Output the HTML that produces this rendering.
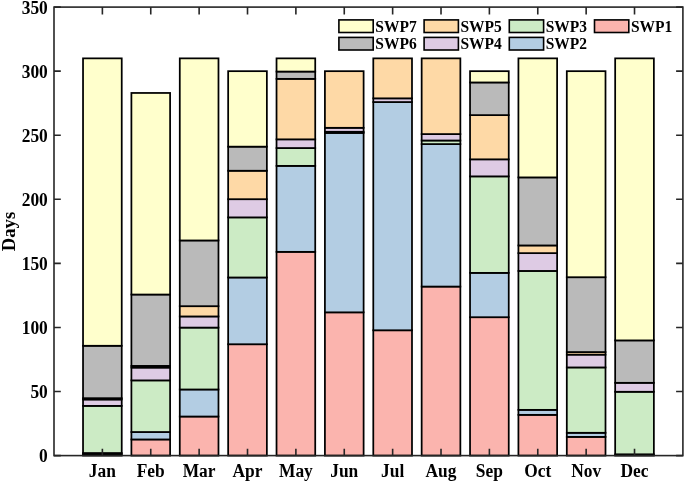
<!DOCTYPE html>
<html><head><meta charset="utf-8"><style>
html,body{margin:0;padding:0;background:#fff;}
body{width:685px;height:483px;overflow:hidden;}
svg{display:block;}
text{filter:grayscale(1);}
.t{font-family:"Liberation Serif",serif;font-weight:bold;font-size:17.4px;fill:#000;}
.l{font-family:"Liberation Serif",serif;font-weight:bold;font-size:15.5px;fill:#000;}
.d{font-family:"Liberation Serif",serif;font-weight:bold;font-size:18.0px;fill:#000;}
</style></head><body>
<svg width="685" height="483" viewBox="0 0 685 483">
<rect x="83.03" y="454.32" width="38.70" height="1.28" fill="#fbb4ae" stroke="#000" stroke-width="1.75"/>
<rect x="83.03" y="453.04" width="38.70" height="1.28" fill="#b3cde3" stroke="#000" stroke-width="1.75"/>
<rect x="83.03" y="405.88" width="38.70" height="47.16" fill="#ccebc5" stroke="#000" stroke-width="1.75"/>
<rect x="83.03" y="399.47" width="38.70" height="6.41" fill="#decbe4" stroke="#000" stroke-width="1.75"/>
<rect x="83.03" y="398.19" width="38.70" height="1.28" fill="#fed9a6" stroke="#000" stroke-width="1.75"/>
<rect x="83.03" y="345.78" width="38.70" height="52.41" fill="#bababa" stroke="#000" stroke-width="1.75"/>
<rect x="83.03" y="58.36" width="38.70" height="287.42" fill="#ffffcc" stroke="#000" stroke-width="1.75"/>
<rect x="131.40" y="439.45" width="38.70" height="16.15" fill="#fbb4ae" stroke="#000" stroke-width="1.75"/>
<rect x="131.40" y="432.02" width="38.70" height="7.43" fill="#b3cde3" stroke="#000" stroke-width="1.75"/>
<rect x="131.40" y="380.38" width="38.70" height="51.64" fill="#ccebc5" stroke="#000" stroke-width="1.75"/>
<rect x="131.40" y="367.57" width="38.70" height="12.81" fill="#decbe4" stroke="#000" stroke-width="1.75"/>
<rect x="131.40" y="365.90" width="38.70" height="1.67" fill="#fed9a6" stroke="#000" stroke-width="1.75"/>
<rect x="131.40" y="294.52" width="38.70" height="71.38" fill="#bababa" stroke="#000" stroke-width="1.75"/>
<rect x="131.40" y="92.96" width="38.70" height="201.57" fill="#ffffcc" stroke="#000" stroke-width="1.75"/>
<rect x="179.78" y="416.52" width="38.70" height="39.08" fill="#fbb4ae" stroke="#000" stroke-width="1.75"/>
<rect x="179.78" y="389.48" width="38.70" height="27.04" fill="#b3cde3" stroke="#000" stroke-width="1.75"/>
<rect x="179.78" y="327.59" width="38.70" height="61.89" fill="#ccebc5" stroke="#000" stroke-width="1.75"/>
<rect x="179.78" y="316.44" width="38.70" height="11.15" fill="#decbe4" stroke="#000" stroke-width="1.75"/>
<rect x="179.78" y="306.19" width="38.70" height="10.25" fill="#fed9a6" stroke="#000" stroke-width="1.75"/>
<rect x="179.78" y="240.45" width="38.70" height="65.74" fill="#bababa" stroke="#000" stroke-width="1.75"/>
<rect x="179.78" y="58.36" width="38.70" height="182.09" fill="#ffffcc" stroke="#000" stroke-width="1.75"/>
<rect x="228.16" y="344.24" width="38.70" height="111.36" fill="#fbb4ae" stroke="#000" stroke-width="1.75"/>
<rect x="228.16" y="277.48" width="38.70" height="66.76" fill="#b3cde3" stroke="#000" stroke-width="1.75"/>
<rect x="228.16" y="217.38" width="38.70" height="60.10" fill="#ccebc5" stroke="#000" stroke-width="1.75"/>
<rect x="228.16" y="199.19" width="38.70" height="18.20" fill="#decbe4" stroke="#000" stroke-width="1.75"/>
<rect x="228.16" y="170.74" width="38.70" height="28.45" fill="#fed9a6" stroke="#000" stroke-width="1.75"/>
<rect x="228.16" y="146.65" width="38.70" height="24.09" fill="#bababa" stroke="#000" stroke-width="1.75"/>
<rect x="228.16" y="71.17" width="38.70" height="75.48" fill="#ffffcc" stroke="#000" stroke-width="1.75"/>
<rect x="276.53" y="251.85" width="38.70" height="203.75" fill="#fbb4ae" stroke="#000" stroke-width="1.75"/>
<rect x="276.53" y="165.87" width="38.70" height="85.98" fill="#b3cde3" stroke="#000" stroke-width="1.75"/>
<rect x="276.53" y="148.06" width="38.70" height="17.81" fill="#ccebc5" stroke="#000" stroke-width="1.75"/>
<rect x="276.53" y="139.34" width="38.70" height="8.71" fill="#decbe4" stroke="#000" stroke-width="1.75"/>
<rect x="276.53" y="78.86" width="38.70" height="60.48" fill="#fed9a6" stroke="#000" stroke-width="1.75"/>
<rect x="276.53" y="71.56" width="38.70" height="7.30" fill="#bababa" stroke="#000" stroke-width="1.75"/>
<rect x="276.53" y="58.36" width="38.70" height="13.20" fill="#ffffcc" stroke="#000" stroke-width="1.75"/>
<rect x="324.91" y="312.34" width="38.70" height="143.26" fill="#fbb4ae" stroke="#000" stroke-width="1.75"/>
<rect x="324.91" y="132.94" width="38.70" height="179.40" fill="#b3cde3" stroke="#000" stroke-width="1.75"/>
<rect x="324.91" y="131.78" width="38.70" height="1.15" fill="#ccebc5" stroke="#000" stroke-width="1.75"/>
<rect x="324.91" y="127.81" width="38.70" height="3.97" fill="#decbe4" stroke="#000" stroke-width="1.75"/>
<rect x="324.91" y="71.17" width="38.70" height="56.64" fill="#fed9a6" stroke="#000" stroke-width="1.75"/>
<rect x="324.91" y="71.17" width="38.70" height="0.00" fill="#bababa" stroke="#000" stroke-width="1.75"/>
<rect x="324.91" y="71.17" width="38.70" height="0.00" fill="#ffffcc" stroke="#000" stroke-width="1.75"/>
<rect x="373.29" y="330.28" width="38.70" height="125.32" fill="#fbb4ae" stroke="#000" stroke-width="1.75"/>
<rect x="373.29" y="102.05" width="38.70" height="228.22" fill="#b3cde3" stroke="#000" stroke-width="1.75"/>
<rect x="373.29" y="102.05" width="38.70" height="0.00" fill="#ccebc5" stroke="#000" stroke-width="1.75"/>
<rect x="373.29" y="98.34" width="38.70" height="3.72" fill="#decbe4" stroke="#000" stroke-width="1.75"/>
<rect x="373.29" y="58.36" width="38.70" height="39.98" fill="#fed9a6" stroke="#000" stroke-width="1.75"/>
<rect x="373.29" y="58.36" width="38.70" height="0.00" fill="#bababa" stroke="#000" stroke-width="1.75"/>
<rect x="373.29" y="58.36" width="38.70" height="0.00" fill="#ffffcc" stroke="#000" stroke-width="1.75"/>
<rect x="421.66" y="286.58" width="38.70" height="169.02" fill="#fbb4ae" stroke="#000" stroke-width="1.75"/>
<rect x="421.66" y="144.08" width="38.70" height="142.49" fill="#b3cde3" stroke="#000" stroke-width="1.75"/>
<rect x="421.66" y="140.50" width="38.70" height="3.59" fill="#ccebc5" stroke="#000" stroke-width="1.75"/>
<rect x="421.66" y="134.09" width="38.70" height="6.41" fill="#decbe4" stroke="#000" stroke-width="1.75"/>
<rect x="421.66" y="58.36" width="38.70" height="75.73" fill="#fed9a6" stroke="#000" stroke-width="1.75"/>
<rect x="421.66" y="58.36" width="38.70" height="0.00" fill="#bababa" stroke="#000" stroke-width="1.75"/>
<rect x="421.66" y="58.36" width="38.70" height="0.00" fill="#ffffcc" stroke="#000" stroke-width="1.75"/>
<rect x="470.04" y="317.21" width="38.70" height="138.39" fill="#fbb4ae" stroke="#000" stroke-width="1.75"/>
<rect x="470.04" y="272.87" width="38.70" height="44.34" fill="#b3cde3" stroke="#000" stroke-width="1.75"/>
<rect x="470.04" y="176.38" width="38.70" height="96.49" fill="#ccebc5" stroke="#000" stroke-width="1.75"/>
<rect x="470.04" y="159.33" width="38.70" height="17.04" fill="#decbe4" stroke="#000" stroke-width="1.75"/>
<rect x="470.04" y="115.12" width="38.70" height="44.21" fill="#fed9a6" stroke="#000" stroke-width="1.75"/>
<rect x="470.04" y="82.45" width="38.70" height="32.68" fill="#bababa" stroke="#000" stroke-width="1.75"/>
<rect x="470.04" y="71.17" width="38.70" height="11.28" fill="#ffffcc" stroke="#000" stroke-width="1.75"/>
<rect x="518.42" y="414.85" width="38.70" height="40.75" fill="#fbb4ae" stroke="#000" stroke-width="1.75"/>
<rect x="518.42" y="409.85" width="38.70" height="5.00" fill="#b3cde3" stroke="#000" stroke-width="1.75"/>
<rect x="518.42" y="270.95" width="38.70" height="138.91" fill="#ccebc5" stroke="#000" stroke-width="1.75"/>
<rect x="518.42" y="253.13" width="38.70" height="17.81" fill="#decbe4" stroke="#000" stroke-width="1.75"/>
<rect x="518.42" y="245.45" width="38.70" height="7.69" fill="#fed9a6" stroke="#000" stroke-width="1.75"/>
<rect x="518.42" y="177.40" width="38.70" height="68.04" fill="#bababa" stroke="#000" stroke-width="1.75"/>
<rect x="518.42" y="58.36" width="38.70" height="119.04" fill="#ffffcc" stroke="#000" stroke-width="1.75"/>
<rect x="566.80" y="436.89" width="38.70" height="18.71" fill="#fbb4ae" stroke="#000" stroke-width="1.75"/>
<rect x="566.80" y="432.79" width="38.70" height="4.10" fill="#b3cde3" stroke="#000" stroke-width="1.75"/>
<rect x="566.80" y="367.44" width="38.70" height="65.35" fill="#ccebc5" stroke="#000" stroke-width="1.75"/>
<rect x="566.80" y="354.62" width="38.70" height="12.81" fill="#decbe4" stroke="#000" stroke-width="1.75"/>
<rect x="566.80" y="352.06" width="38.70" height="2.56" fill="#fed9a6" stroke="#000" stroke-width="1.75"/>
<rect x="566.80" y="277.23" width="38.70" height="74.84" fill="#bababa" stroke="#000" stroke-width="1.75"/>
<rect x="566.80" y="71.17" width="38.70" height="206.05" fill="#ffffcc" stroke="#000" stroke-width="1.75"/>
<rect x="615.17" y="455.60" width="38.70" height="0.00" fill="#fbb4ae" stroke="#000" stroke-width="1.75"/>
<rect x="615.17" y="454.32" width="38.70" height="1.28" fill="#b3cde3" stroke="#000" stroke-width="1.75"/>
<rect x="615.17" y="391.78" width="38.70" height="62.53" fill="#ccebc5" stroke="#000" stroke-width="1.75"/>
<rect x="615.17" y="382.81" width="38.70" height="8.97" fill="#decbe4" stroke="#000" stroke-width="1.75"/>
<rect x="615.17" y="382.81" width="38.70" height="0.00" fill="#fed9a6" stroke="#000" stroke-width="1.75"/>
<rect x="615.17" y="340.40" width="38.70" height="42.42" fill="#bababa" stroke="#000" stroke-width="1.75"/>
<rect x="615.17" y="58.36" width="38.70" height="282.04" fill="#ffffcc" stroke="#000" stroke-width="1.75"/>
<rect x="54.0" y="7.1" width="628.90" height="448.50" fill="none" stroke="#262626" stroke-width="1.6"/>
<path d="M102.38 455.6v-6.8M102.38 7.1v7.4M150.75 455.6v-6.8M150.75 7.1v7.4M199.13 455.6v-6.8M199.13 7.1v7.4M247.51 455.6v-6.8M247.51 7.1v7.4M295.88 455.6v-6.8M295.88 7.1v7.4M344.26 455.6v-6.8M344.26 7.1v7.4M392.64 455.6v-6.8M392.64 7.1v7.4M441.02 455.6v-6.8M441.02 7.1v7.4M489.39 455.6v-6.8M489.39 7.1v7.4M537.77 455.6v-6.8M537.77 7.1v7.4M586.15 455.6v-6.8M586.15 7.1v7.4M634.52 455.6v-6.8M634.52 7.1v7.4M54.0 455.60h6.8M682.9 455.60h-6.8M54.0 391.53h6.8M682.9 391.53h-6.8M54.0 327.46h6.8M682.9 327.46h-6.8M54.0 263.39h6.8M682.9 263.39h-6.8M54.0 199.31h6.8M682.9 199.31h-6.8M54.0 135.24h6.8M682.9 135.24h-6.8M54.0 71.17h6.8M682.9 71.17h-6.8M54.0 7.10h6.8M682.9 7.10h-6.8" stroke="#262626" stroke-width="1.6" fill="none"/>
<text transform="translate(47.8 462.40) scale(1 1.06)" text-anchor="end" class="t">0</text>
<text transform="translate(47.8 398.33) scale(1 1.06)" text-anchor="end" class="t">50</text>
<text transform="translate(47.8 334.26) scale(1 1.06)" text-anchor="end" class="t">100</text>
<text transform="translate(47.8 270.19) scale(1 1.06)" text-anchor="end" class="t">150</text>
<text transform="translate(47.8 206.11) scale(1 1.06)" text-anchor="end" class="t">200</text>
<text transform="translate(47.8 142.04) scale(1 1.06)" text-anchor="end" class="t">250</text>
<text transform="translate(47.8 77.97) scale(1 1.06)" text-anchor="end" class="t">300</text>
<text transform="translate(47.8 13.90) scale(1 1.06)" text-anchor="end" class="t">350</text>
<text transform="translate(102.38 477.4) scale(1 1.06)" text-anchor="middle" class="t">Jan</text>
<text transform="translate(150.75 477.4) scale(1 1.06)" text-anchor="middle" class="t">Feb</text>
<text transform="translate(199.13 477.4) scale(1 1.06)" text-anchor="middle" class="t">Mar</text>
<text transform="translate(247.51 477.4) scale(1 1.06)" text-anchor="middle" class="t">Apr</text>
<text transform="translate(295.88 477.4) scale(1 1.06)" text-anchor="middle" class="t">May</text>
<text transform="translate(344.26 477.4) scale(1 1.06)" text-anchor="middle" class="t">Jun</text>
<text transform="translate(392.64 477.4) scale(1 1.06)" text-anchor="middle" class="t">Jul</text>
<text transform="translate(441.02 477.4) scale(1 1.06)" text-anchor="middle" class="t">Aug</text>
<text transform="translate(489.39 477.4) scale(1 1.06)" text-anchor="middle" class="t">Sep</text>
<text transform="translate(537.77 477.4) scale(1 1.06)" text-anchor="middle" class="t">Oct</text>
<text transform="translate(586.15 477.4) scale(1 1.06)" text-anchor="middle" class="t">Nov</text>
<text transform="translate(634.52 477.4) scale(1 1.06)" text-anchor="middle" class="t">Dec</text>
<text transform="translate(15.0 231.5) scale(1 1.04) rotate(-90)" text-anchor="middle" class="d">Days</text>
<rect x="338.90" y="19.90" width="34.3" height="12.6" fill="#ffffcc" stroke="#000" stroke-width="1.6"/>
<text transform="translate(375.30 31.50) scale(1 1.06)" class="l">SWP7</text>
<rect x="424.10" y="19.90" width="34.3" height="12.6" fill="#fed9a6" stroke="#000" stroke-width="1.6"/>
<text transform="translate(460.50 31.50) scale(1 1.06)" class="l">SWP5</text>
<rect x="509.30" y="19.90" width="34.3" height="12.6" fill="#ccebc5" stroke="#000" stroke-width="1.6"/>
<text transform="translate(545.70 31.50) scale(1 1.06)" class="l">SWP3</text>
<rect x="594.50" y="19.90" width="34.3" height="12.6" fill="#fbb4ae" stroke="#000" stroke-width="1.6"/>
<text transform="translate(630.90 31.50) scale(1 1.06)" class="l">SWP1</text>
<rect x="338.90" y="37.40" width="34.3" height="12.6" fill="#bababa" stroke="#000" stroke-width="1.6"/>
<text transform="translate(375.30 49.00) scale(1 1.06)" class="l">SWP6</text>
<rect x="424.10" y="37.40" width="34.3" height="12.6" fill="#decbe4" stroke="#000" stroke-width="1.6"/>
<text transform="translate(460.50 49.00) scale(1 1.06)" class="l">SWP4</text>
<rect x="509.30" y="37.40" width="34.3" height="12.6" fill="#b3cde3" stroke="#000" stroke-width="1.6"/>
<text transform="translate(545.70 49.00) scale(1 1.06)" class="l">SWP2</text>
</svg>
</body></html>
